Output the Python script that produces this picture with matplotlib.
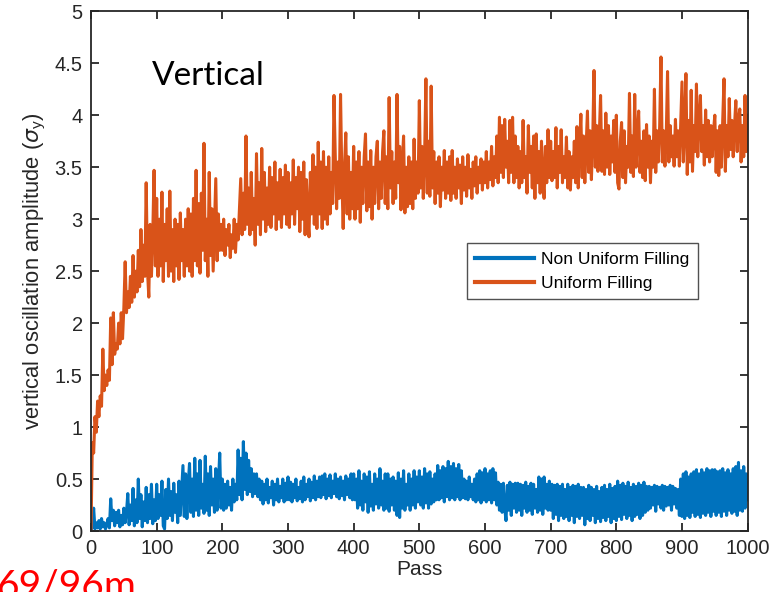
import numpy as np
import matplotlib
matplotlib.use("Agg")
import matplotlib.pyplot as plt

# Pass axis: one sample every 2 passes, 0..1000
passes = np.arange(0, 1001, 2)

# Uniform filling, vertical oscillation amplitude (sigma_y); 25 samples per 50 passes
uniform = [
    0.00, 0.85, 0.75, 1.10, 0.95, 1.25, 1.10, 1.30, 1.20, 1.75, 1.35, 1.50, 1.40, 1.55, 1.45, 2.05, 1.60, 2.10, 1.70, 1.80, 1.75, 2.00, 1.80, 2.10, 1.85,
    2.15, 2.59, 2.10, 2.30, 2.15, 2.45, 2.20, 2.65, 2.25, 2.50, 2.30, 2.70, 2.35, 2.90, 2.40, 2.75, 2.45, 3.35, 2.50, 2.25, 2.95, 2.45, 2.85, 3.47, 2.55,
    3.20, 2.45, 3.00, 2.55, 3.26, 2.40, 2.95, 2.60, 3.10, 2.45, 3.27, 2.50, 2.90, 2.40, 3.00, 2.55, 2.95, 2.42, 3.06, 2.60, 2.90, 2.45, 3.00, 2.55, 3.10,
    2.50, 3.05, 2.45, 3.20, 2.60, 3.47, 2.55, 3.15, 2.48, 3.25, 2.70, 3.73, 2.60, 3.00, 2.45, 3.45, 2.65, 3.10, 2.50, 2.95, 3.39, 2.60, 3.05, 2.70, 2.95,
    2.70, 3.00, 2.65, 2.90, 2.75, 2.95, 2.63, 2.85, 2.72, 3.00, 2.68, 2.95, 2.80, 3.10, 3.39, 2.85, 3.25, 2.90, 3.80, 2.95, 3.30, 2.85, 3.45, 2.90, 3.20,
    2.75, 3.63, 2.95, 3.35, 2.85, 3.68, 3.00, 3.45, 2.88, 3.30, 2.95, 3.50, 2.92, 3.40, 3.05, 3.55, 2.90, 3.35, 3.00, 3.48, 2.92, 3.40, 3.05, 3.52, 2.95,
    3.45, 2.92, 3.35, 3.05, 3.57, 2.95, 3.40, 3.10, 3.50, 2.88, 3.45, 3.00, 3.55, 2.85, 3.38, 3.02, 2.83, 3.45, 3.05, 3.62, 2.95, 3.50, 2.91, 3.74, 3.05,
    3.55, 2.91, 3.65, 3.00, 3.50, 2.95, 3.60, 3.05, 3.45, 3.15, 4.19, 3.60, 3.10, 3.55, 3.20, 4.20, 3.40, 2.91, 3.50, 3.83, 3.05, 3.60, 3.00, 3.45, 3.10,
    3.70, 3.00, 3.55, 3.10, 3.65, 2.97, 3.50, 3.15, 3.60, 3.82, 3.08, 3.55, 3.12, 3.66, 3.00, 3.50, 3.15, 3.60, 3.75, 3.10, 3.55, 3.20, 3.65, 3.85, 3.15,
    3.60, 3.10, 4.17, 3.30, 3.65, 3.15, 3.55, 3.20, 4.20, 3.35, 3.70, 3.09, 3.55, 3.80, 3.06, 3.50, 3.12, 3.60, 3.15, 3.55, 3.10, 3.77, 3.20, 3.55, 3.25,
    4.14, 3.30, 3.70, 3.20, 3.60, 4.35, 3.25, 3.75, 3.22, 4.28, 3.30, 3.65, 3.15, 3.55, 3.25, 3.60, 3.12, 3.50, 3.28, 3.66, 3.20, 3.55, 3.25, 3.60, 3.18,
    3.66, 3.25, 3.50, 3.20, 3.58, 3.30, 3.52, 3.15, 3.60, 3.28, 3.50, 3.22, 3.62, 3.30, 3.48, 3.20, 3.55, 3.32, 3.60, 3.25, 3.50, 3.35, 3.58, 3.28, 3.55,
    3.35, 3.65, 3.30, 3.55, 3.38, 3.70, 3.32, 3.60, 3.40, 3.80, 3.35, 3.98, 3.45, 3.90, 3.40, 3.96, 3.50, 3.75, 3.35, 3.95, 3.45, 3.98, 3.35, 3.80, 3.40,
    3.70, 3.30, 3.65, 3.35, 3.95, 3.40, 3.60, 3.25, 3.90, 3.45, 3.70, 3.30, 3.80, 3.20, 3.82, 3.35, 3.65, 3.25, 3.75, 3.40, 3.20, 3.70, 3.35, 3.86, 3.40,
    3.75, 3.37, 3.65, 3.40, 3.88, 3.30, 3.70, 3.45, 3.86, 3.35, 3.60, 3.40, 3.79, 3.30, 3.65, 3.28, 3.60, 3.40, 3.75, 3.35, 3.89, 3.30, 3.70, 4.01, 3.40,
    3.80, 3.35, 3.70, 4.04, 3.45, 3.85, 3.38, 3.75, 4.43, 3.50, 3.90, 3.46, 3.80, 4.19, 3.46, 3.85, 3.43, 4.02, 3.50, 3.90, 3.43, 3.80, 3.55, 3.95, 3.45,
    4.00, 3.35, 3.29, 3.75, 3.93, 3.40, 3.85, 3.35, 3.70, 3.50, 4.21, 3.45, 3.80, 3.41, 4.20, 3.50, 3.80, 4.04, 3.45, 3.75, 3.40, 3.85, 3.37, 3.91, 3.50,
    3.80, 3.35, 3.75, 3.50, 4.25, 3.45, 3.85, 3.55, 3.90, 4.56, 3.55, 3.85, 3.51, 3.80, 4.42, 3.55, 3.90, 3.60, 3.80, 3.51, 3.96, 3.60, 3.85, 3.51, 3.90,
    4.32, 3.55, 3.90, 4.40, 3.43, 3.95, 3.55, 4.24, 3.46, 3.90, 3.65, 4.30, 3.60, 3.95, 4.19, 3.65, 3.90, 3.52, 4.05, 3.60, 3.95, 3.55, 3.90, 3.60, 3.85,
    4.00, 3.45, 3.85, 3.42, 3.90, 3.50, 3.95, 4.35, 3.46, 3.90, 3.60, 4.16, 3.67, 3.95, 3.60, 3.90, 4.14, 3.65, 3.95, 4.06, 3.55, 3.90, 3.60, 4.19, 3.65,
    4.00,
]

# Non uniform filling; 25 samples per 50 passes
non_uniform = [
    0.00, 0.05, 0.22, 0.02, 0.08, 0.03, 0.10, 0.02, 0.12, 0.04, 0.08, 0.02, 0.06, 0.12, 0.03, 0.31, 0.10, 0.20, 0.05, 0.18, 0.08, 0.20, 0.04, 0.15, 0.06,
    0.22, 0.08, 0.18, 0.36, 0.06, 0.25, 0.10, 0.41, 0.05, 0.30, 0.08, 0.50, 0.12, 0.35, 0.04, 0.28, 0.10, 0.42, 0.08, 0.35, 0.12, 0.45, 0.07, 0.30, 0.10,
    0.45, 0.12, 0.35, 0.15, 0.48, 0.05, 0.02, 0.40, 0.12, 0.50, 0.15, 0.38, 0.10, 0.46, 0.18, 0.35, 0.08, 0.48, 0.15, 0.40, 0.63, 0.14, 0.55, 0.12, 0.45,
    0.65, 0.18, 0.50, 0.14, 0.70, 0.20, 0.55, 0.15, 0.68, 0.22, 0.45, 0.17, 0.72, 0.20, 0.55, 0.15, 0.62, 0.25, 0.50, 0.18, 0.60, 0.20, 0.45, 0.75, 0.22,
    0.50, 0.20, 0.45, 0.22, 0.48, 0.25, 0.42, 0.20, 0.50, 0.28, 0.45, 0.30, 0.78, 0.35, 0.70, 0.30, 0.86, 0.40, 0.75, 0.35, 0.68, 0.38, 0.60, 0.33, 0.55,
    0.36, 0.55, 0.33, 0.50, 0.30, 0.48, 0.26, 0.45, 0.30, 0.50, 0.27, 0.42, 0.32, 0.48, 0.25, 0.45, 0.30, 0.50, 0.28, 0.43, 0.32, 0.50, 0.28, 0.46, 0.30,
    0.52, 0.30, 0.47, 0.28, 0.45, 0.32, 0.50, 0.29, 0.42, 0.31, 0.48, 0.28, 0.52, 0.30, 0.45, 0.33, 0.50, 0.29, 0.47, 0.32, 0.53, 0.30, 0.48, 0.33, 0.52,
    0.32, 0.53, 0.35, 0.55, 0.31, 0.50, 0.34, 0.54, 0.32, 0.48, 0.36, 0.55, 0.33, 0.50, 0.31, 0.52, 0.34, 0.48, 0.30, 0.53, 0.35, 0.50, 0.32, 0.55, 0.30,
    0.55, 0.30, 0.50, 0.22, 0.58, 0.25, 0.48, 0.20, 0.55, 0.28, 0.52, 0.18, 0.57, 0.24, 0.45, 0.20, 0.55, 0.26, 0.50, 0.22, 0.60, 0.25, 0.48, 0.20, 0.55,
    0.22, 0.55, 0.19, 0.50, 0.25, 0.52, 0.20, 0.48, 0.15, 0.56, 0.13, 0.50, 0.22, 0.58, 0.20, 0.45, 0.25, 0.55, 0.20, 0.50, 0.25, 0.58, 0.22, 0.52, 0.28,
    0.58, 0.25, 0.52, 0.22, 0.60, 0.27, 0.55, 0.22, 0.57, 0.26, 0.50, 0.28, 0.55, 0.30, 0.63, 0.30, 0.58, 0.32, 0.62, 0.28, 0.60, 0.33, 0.67, 0.30, 0.62,
    0.32, 0.65, 0.30, 0.60, 0.33, 0.64, 0.30, 0.58, 0.32, 0.50, 0.31, 0.48, 0.30, 0.52, 0.33, 0.45, 0.30, 0.50, 0.28, 0.55, 0.30, 0.58, 0.27, 0.56, 0.30,
    0.60, 0.28, 0.55, 0.30, 0.58, 0.27, 0.60, 0.30, 0.56, 0.25, 0.47, 0.20, 0.45, 0.18, 0.46, 0.22, 0.10, 0.44, 0.20, 0.47, 0.15, 0.45, 0.22, 0.46, 0.18,
    0.46, 0.20, 0.45, 0.15, 0.44, 0.22, 0.47, 0.18, 0.43, 0.20, 0.46, 0.16, 0.45, 0.22, 0.40, 0.18, 0.52, 0.20, 0.50, 0.16, 0.52, 0.22, 0.45, 0.20, 0.48,
    0.20, 0.45, 0.12, 0.44, 0.16, 0.45, 0.10, 0.43, 0.15, 0.45, 0.12, 0.40, 0.14, 0.45, 0.10, 0.42, 0.15, 0.44, 0.08, 0.43, 0.14, 0.45, 0.12, 0.42, 0.15,
    0.42, 0.06, 0.40, 0.12, 0.44, 0.10, 0.42, 0.15, 0.40, 0.08, 0.43, 0.12, 0.38, 0.09, 0.42, 0.13, 0.44, 0.10, 0.40, 0.14, 0.45, 0.08, 0.41, 0.12, 0.43,
    0.10, 0.48, 0.14, 0.44, 0.11, 0.46, 0.16, 0.43, 0.12, 0.47, 0.15, 0.42, 0.10, 0.45, 0.14, 0.43, 0.16, 0.46, 0.12, 0.44, 0.15, 0.47, 0.18, 0.43, 0.20,
    0.43, 0.22, 0.42, 0.25, 0.44, 0.19, 0.43, 0.26, 0.42, 0.22, 0.44, 0.20, 0.43, 0.24, 0.42, 0.25, 0.44, 0.20, 0.43, 0.26, 0.41, 0.22, 0.40, 0.15, 0.50,
    0.14, 0.55, 0.12, 0.57, 0.15, 0.52, 0.13, 0.55, 0.18, 0.57, 0.14, 0.59, 0.16, 0.55, 0.13, 0.59, 0.17, 0.56, 0.15, 0.60, 0.18, 0.58, 0.14, 0.59, 0.19,
    0.59, 0.15, 0.57, 0.18, 0.58, 0.14, 0.60, 0.19, 0.56, 0.15, 0.59, 0.20, 0.55, 0.17, 0.60, 0.19, 0.62, 0.15, 0.66, 0.20, 0.58, 0.19, 0.62, 0.22, 0.55,
    0.30,
]

series_labels = ["Non Uniform Filling", "Uniform Filling"]
x_ticks = list(range(0, 1001, 100))
y_ticks = [0, 0.5, 1, 1.5, 2, 2.5, 3, 3.5, 4, 4.5, 5]
y_tick_labels = ["0", "0.5", "1", "1.5", "2", "2.5", "3", "3.5", "4", "4.5", "5"]

plt.rcParams["font.family"] = ["Liberation Sans", "DejaVu Sans"]
plt.rcParams["mathtext.fontset"] = "custom"
plt.rcParams["mathtext.it"] = "DejaVu Sans:italic"
plt.rcParams["mathtext.rm"] = "Liberation Sans"

fig = plt.figure(figsize=(7.78, 5.92), dpi=100)
ax = fig.add_axes([0.117, 0.103, 0.844, 0.878])

ax.plot(passes, non_uniform, color="#0072BD", lw=2.2, label=series_labels[0])
ax.plot(passes, uniform, color="#D95319", lw=2.2, label=series_labels[1])

ax.set_xlim(0, 1000)
ax.set_ylim(0, 5)
ax.set_xticks(x_ticks)
ax.set_yticks(y_ticks)
ax.set_yticklabels(y_tick_labels)

axis_color = "#262626"
for s in ax.spines.values():
    s.set_color(axis_color)
    s.set_linewidth(1.3)
ax.tick_params(direction="in", length=6, width=1.3, color=axis_color,
               top=True, right=True, labelsize=14.5, labelcolor=axis_color, pad=6)

ax.set_xlabel("Pass", fontsize=15, color=axis_color, labelpad=1)
ax.set_ylabel(r"vertical oscillation amplitude ($\sigma_{\rm y}$)", fontsize=15.8,
              color=axis_color, labelpad=5)

ax.text(93, 4.29, "Vertical", fontsize=24, family=["Lato", "DejaVu Sans"],
        color="black")

leg = ax.legend(loc="upper left", bbox_to_anchor=(0.572, 0.554), fontsize=12.5,
                frameon=True, fancybox=False, handlelength=3.4, handletextpad=0.4,
                borderpad=0.5, labelspacing=0.5, borderaxespad=0)
leg.get_frame().set_edgecolor(axis_color)
leg.get_frame().set_linewidth(1.0)
for line in leg.get_lines():
    line.set_linewidth(3)

fig.text(-0.004, -0.009, "69/96m", fontsize=28, color="#FF0000",
         family=["Lato", "DejaVu Sans"], ha="left", va="baseline")

fig.savefig("out.png", dpi=100)
